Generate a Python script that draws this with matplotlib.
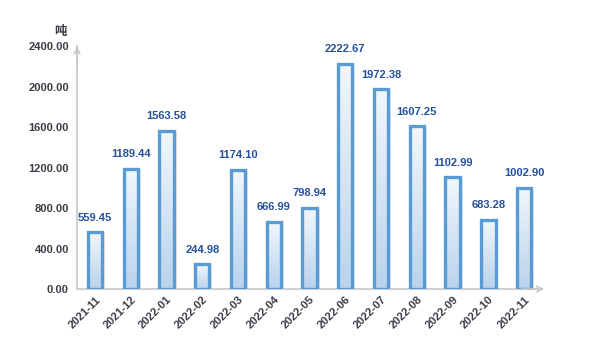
import matplotlib
matplotlib.use('Agg')
import matplotlib.pyplot as plt
import numpy as np

plt.rcParams['font.family'] = ['Liberation Sans', 'Noto Sans CJK SC', 'DejaVu Sans']

months = ['2021-11', '2021-12', '2022-01', '2022-02', '2022-03', '2022-04', '2022-05',
          '2022-06', '2022-07', '2022-08', '2022-09', '2022-10', '2022-11']
tons = [559.45, 1189.44, 1563.58, 244.98, 1174.10, 666.99, 798.94,
        2222.67, 1972.38, 1607.25, 1102.99, 683.28, 1002.90]
yticks = [0, 400, 800, 1200, 1600, 2000, 2400]

EDGE = '#5b9bd5'
LABEL = '#24509c'
TICK = '#3c3c46'
AXIS = '#d0d0d0'

fig = plt.figure(figsize=(6.07, 3.6), dpi=100, facecolor='white')
ax = fig.add_axes([0.127, 0.197, 0.766, 0.675])

x = np.arange(len(months))
bars = ax.bar(x, tons, width=0.4, facecolor='none', edgecolor=EDGE,
              linewidth=2.4, zorder=3)

# vertical gradient inside each bar: light at top, bluer at bottom
grad = np.linspace(0, 1, 256).reshape(-1, 1)
cmap = matplotlib.colors.LinearSegmentedColormap.from_list('g', ['#b9d3ec', '#f2f7fc'])
for b in bars:
    x0, w, h = b.get_x(), b.get_width(), b.get_height()
    # soft shadow
    ax.add_patch(plt.Rectangle((x0 + w + 0.03, 0), 0.05, h * 0.99,
                               facecolor='#e6e6e6', edgecolor='none', zorder=2))
    im = ax.imshow(grad, cmap=cmap, extent=[x0, x0 + w, 0, h], origin='lower',
                   aspect='auto', zorder=2.5)
    im.set_clip_path(b)

for xi, v in zip(x, tons):
    ax.annotate(f'{v:.2f}', (xi, v), xytext=(0, 7), textcoords='offset points',
                ha='center', va='bottom', color=LABEL, fontsize=8, fontweight='bold')

ax.set_xlim(-0.5, len(months) - 0.5)
ax.set_ylim(0, 2400)
ax.set_yticks(yticks)
ax.set_yticklabels([f'{t:.2f}' for t in yticks], color=TICK, fontsize=8, fontweight='bold')
ax.set_xticks(x)
ax.set_xticklabels(months, rotation=45, ha='right', rotation_mode='anchor',
                   color=TICK, fontsize=8, fontweight='bold')
ax.tick_params(length=0, pad=6)
ax.tick_params(axis='x', pad=4)

for s in ['top', 'right']:
    ax.spines[s].set_visible(False)
for s in ['left', 'bottom']:
    ax.spines[s].set_color(AXIS)
    ax.spines[s].set_linewidth(1.5)
ax.annotate('', xy=(0, 1.01), xytext=(0, 0.9), xycoords='axes fraction',
            arrowprops=dict(arrowstyle='->', color='#c8c8c8', lw=1.2), annotation_clip=False)
ax.annotate('', xy=(1.01, 0), xytext=(0.95, 0), xycoords='axes fraction',
            arrowprops=dict(arrowstyle='->', color='#c8c8c8', lw=1.2), annotation_clip=False)

fig.text(54 / 607, 1 - 31 / 360, '吨', ha='left', va='center', color=TICK,
         fontsize=9, fontweight='bold', family=['Noto Sans CJK SC', 'DejaVu Sans'])

fig.savefig('out.png', dpi=100, facecolor='white')
